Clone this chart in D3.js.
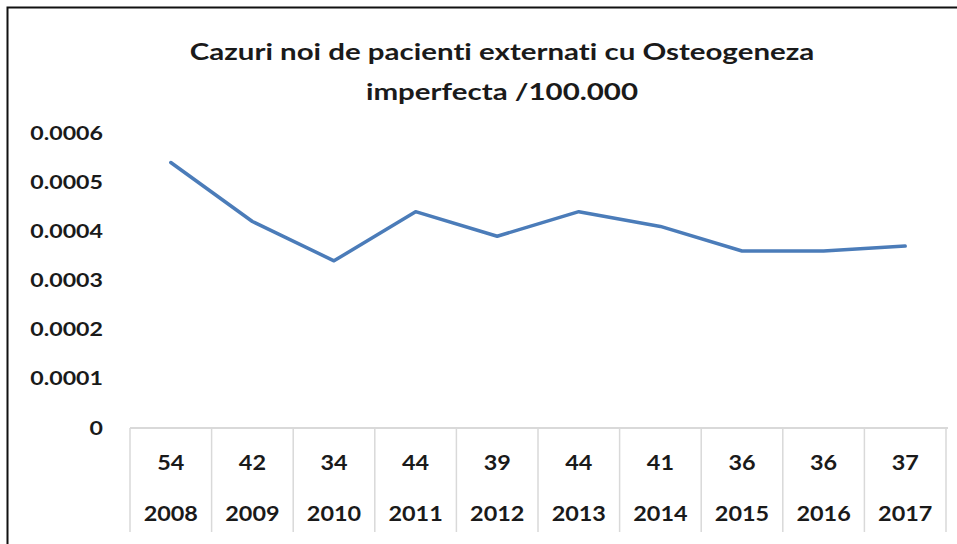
<!DOCTYPE html>
<html>
<head>
<meta charset="utf-8">
<script src="https://cdn.jsdelivr.net/npm/d3@7"></script>
<style>
  body { margin: 0; background: #fff; }
  svg { display: block; font-family: Lato, "Open Sans", sans-serif; font-variant-ligatures: none; }
</style>
</head>
<body>
<svg id="chart" width="957" height="544"></svg>
<script>
// data
const years = ["2008", "2009", "2010", "2011", "2012", "2013", "2014", "2015", "2016", "2017"];
const cases = [54, 42, 34, 44, 39, 44, 41, 36, 36, 37];
const rates = [0.00054, 0.00042, 0.00034, 0.00044, 0.00039, 0.00044, 0.00041, 0.00036, 0.00036, 0.00037];
const yTicks = [0, 0.0001, 0.0002, 0.0003, 0.0004, 0.0005, 0.0006];
const titleLines = ["Cazuri noi de pacienti externati cu Osteogeneza", "imperfecta /100.000"];

const svg = d3.select("#chart");
const ink = "#1a1a1a";

// frame (only top and left edges are visible in the picture)
svg.append("rect")
  .attr("x", 7.5).attr("y", 7.5)
  .attr("width", 1000).attr("height", 1000)
  .attr("fill", "#fff")
  .attr("stroke", "#111")
  .attr("stroke-width", 2);

const plotLeft = 130, plotRight = 946, plotTop = 133, zeroY = 428;

const x = d3.scaleBand()
  .domain(years)
  .range([plotLeft, plotRight]);

const y = d3.scaleLinear()
  .domain([0, 0.0006])
  .range([zeroY, plotTop]);

// the picture's text is stretched sideways, so widen glyphs a bit
svg.append("g").selectAll("text")
  .data(titleLines)
  .enter()
  .append("text")
  .attr("transform", (d, i) => "translate(502," + (60 + i * 40) + ") scale(1.34,1)")
  .attr("text-anchor", "middle")
  .attr("font-size", 22)
  .attr("font-weight", "bold")
  .attr("fill", ink)
  .text(d => d);

// y axis labels only
const yAxis = svg.append("g")
  .attr("transform", "translate(" + 103 + ",0)")
  .call(d3.axisLeft(y).tickValues(yTicks).tickSize(0).tickPadding(0)
    .tickFormat(d => d === 0 ? "0" : d3.format(".4f")(d)));
yAxis.select(".domain").remove();
yAxis.selectAll("text")
  .attr("transform", "scale(1.22,1)")
  .attr("font-family", "Lato, sans-serif")
  .attr("font-size", 19)
  .attr("font-weight", "bold")
  .attr("fill", ink);

// x axis line and table separators
svg.append("line")
  .attr("x1", plotLeft).attr("x2", plotRight + 2)
  .attr("y1", zeroY).attr("y2", zeroY)
  .attr("stroke", "#d9d9d9").attr("stroke-width", 2);

const seps = years.map(d => x(d)).concat([plotRight]);
svg.append("g").selectAll("line")
  .data(seps)
  .enter()
  .append("line")
  .attr("x1", d => d).attr("x2", d => d)
  .attr("y1", zeroY).attr("y2", 532)
  .attr("stroke", "#d9d9d9").attr("stroke-width", 1.5);

// table rows: values and years
const cells = svg.append("g")
  .attr("font-size", 20)
  .attr("font-weight", "bold")
  .attr("fill", ink)
  .attr("text-anchor", "middle");

const cx = d => x(d) + x.bandwidth() / 2;

cells.selectAll(".val")
  .data(cases)
  .enter()
  .append("text")
  .attr("class", "val")
  .attr("transform", (d, i) => "translate(" + cx(years[i]) + ",470) scale(1.17,1)")
  .text(d => d);

cells.selectAll(".yr")
  .data(years)
  .enter()
  .append("text")
  .attr("class", "yr")
  .attr("transform", d => "translate(" + cx(d) + ",521) scale(1.17,1)")
  .text(d => d);

// line
const line = d3.line()
  .x((d, i) => cx(years[i]))
  .y(d => y(d));

svg.append("path")
  .datum(rates)
  .attr("d", line)
  .attr("fill", "none")
  .attr("stroke", "#4b7cb9")
  .attr("stroke-width", 3.5)
  .attr("stroke-linejoin", "round")
  .attr("stroke-linecap", "round");
</script>
</body>
</html>
